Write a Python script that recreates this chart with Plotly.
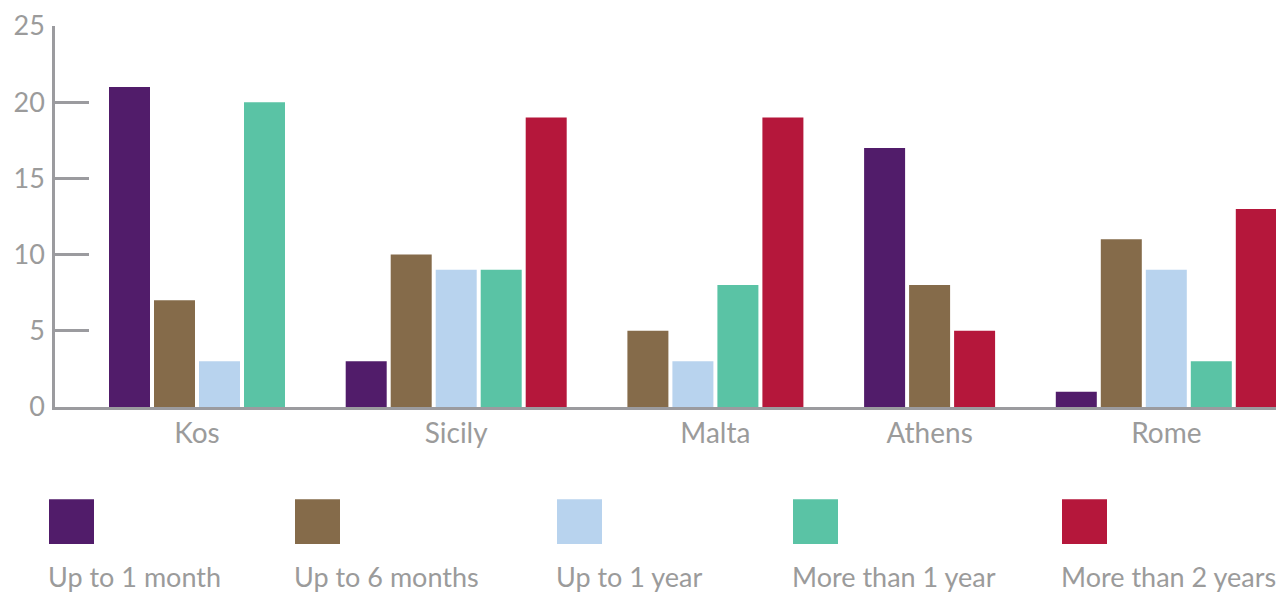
import plotly.graph_objects as go

# ---- data ----
categories = ["Kos", "Sicily", "Malta", "Athens", "Rome"]
series_names = ["Up to 1 month", "Up to 6 months", "Up to 1 year",
                "More than 1 year", "More than 2 years"]
up_to_1_month = [21, 3, None, 17, 1]
up_to_6_months = [7, 10, 5, 8, 11]
up_to_1_year = [3, 9, 3, None, 9]
more_than_1_year = [20, 9, 8, None, 3]
more_than_2_years = [None, 19, 19, 5, 13]
y_ticks = [0, 5, 10, 15, 20, 25]

series_values = [up_to_1_month, up_to_6_months, up_to_1_year,
                 more_than_1_year, more_than_2_years]
colors = ["#511c6a", "#856b4a", "#b8d3ee", "#5ac3a5", "#b5173b"]

# ---- layout constants ----
OFF = 8  # default page body margin
W, H = 1284 - OFF, 594 - OFF
ML, MR, MT, MB = 55 - OFF, 0, 23 - OFF, 187
PW, PH = W - ML - MR, H - MT - MB
STEP = 1.0          # bar step
GAP = 1.26          # extra gap between groups
BAR_W = 41 / 45
AXIS_GREY = "#9b9b9f"
TEXT_GREY = "#9b9b9b"
FONT = "Lato"

# compute bar positions: present bars packed within each group
positions = {i: [] for i in range(len(series_values))}
group_centers = []
cur = 0.0
for gi, cat in enumerate(categories):
    xs = []
    for si, vals in enumerate(series_values):
        if vals[gi] is not None:
            positions[si].append((cur, vals[gi]))
            xs.append(cur)
            cur += STEP
    group_centers.append(sum(xs) / len(xs))
    cur += GAP

px_per_unit = 45.0
x_min = 0.0 - (129.5 - 55) / px_per_unit
x_max = x_min + PW / px_per_unit

fig = go.Figure()
for si, name in enumerate(series_names):
    pts = positions[si]
    fig.add_trace(go.Bar(
        x=[p[0] for p in pts], y=[p[1] for p in pts], name=name,
        marker=dict(color=colors[si], line=dict(width=0)),
        width=BAR_W, showlegend=False,
    ))

# custom legend: squares above labels (page pixel coords -> paper)
legend_px = [49, 295, 557, 793, 1062]
sq = 45
def px_x(p):
    return (p - OFF - ML) / PW
def px_y(p):
    return (H - MB - (p - OFF)) / PH

for si, name in enumerate(series_names):
    fig.add_shape(type="rect", xref="paper", yref="paper",
                  x0=px_x(legend_px[si]), x1=px_x(legend_px[si] + sq),
                  y0=px_y(545), y1=px_y(500),
                  fillcolor=colors[si], line=dict(width=0))
    fig.add_annotation(xref="paper", yref="paper",
                       x=px_x(legend_px[si] - 3), y=px_y(578),
                       text=name, showarrow=False,
                       xanchor="left", yanchor="middle",
                       font=dict(family=FONT, size=27, color=TEXT_GREY))

fig.update_layout(
    width=W, height=H,
    margin=dict(l=ML, r=MR, t=MT, b=MB),
    paper_bgcolor="white", plot_bgcolor="white",
    barmode="overlay",
    font=dict(family=FONT, color=TEXT_GREY, size=27),
    xaxis=dict(range=[x_min, x_max], tickvals=group_centers,
               ticktext=categories, showgrid=False, zeroline=False,
               showline=True, linecolor=AXIS_GREY, linewidth=2.5,
               ticks="", ticklabelstandoff=0,
               tickfont=dict(family=FONT, size=28, color=TEXT_GREY)),
    yaxis=dict(range=[0, 25], tickvals=y_ticks, showgrid=False,
               zeroline=False, showline=True, linecolor=AXIS_GREY,
               linewidth=2.5, ticks="inside", ticklen=34, tickwidth=2.5,
               tickcolor=AXIS_GREY, ticklabelstandoff=2,
               ticklabeloverflow="allow",
               tickfont=dict(family=FONT, size=27, color=TEXT_GREY)),
)

fig.write_html("out.html")
